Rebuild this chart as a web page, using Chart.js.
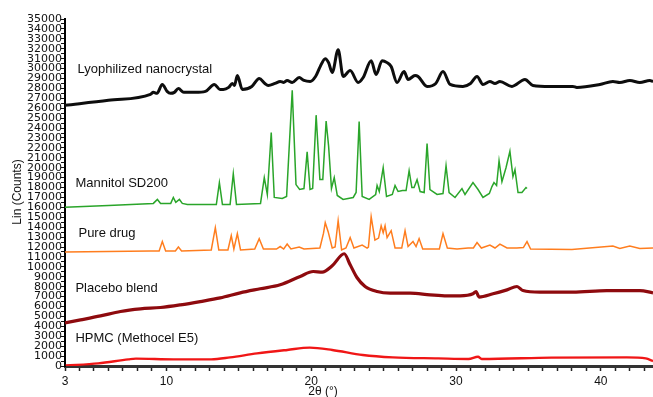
<!DOCTYPE html>
<html>
<head>
<meta charset="utf-8">
<script src="https://cdn.jsdelivr.net/npm/chart.js@4.4.1/dist/chart.umd.min.js"></script>
<style>
  html, body { margin: 0; padding: 0; background: #fff; }
  #wrap { width: 653px; height: 397px; position: relative; }
</style>
</head>
<body>
<div id="wrap"><canvas id="xrd"></canvas></div>
<script>
const lyoX = [3.0, 6.0, 8.9, 9.1, 9.35, 9.72, 10.05, 10.28, 10.55, 10.83, 11.2, 12.0, 12.7, 13.31, 13.7, 13.93, 14.3, 14.55, 14.7, 14.9, 15.24, 15.9, 16.41, 16.8, 17.03, 17.5, 17.86, 18.1, 18.34, 18.69, 19.17, 19.5, 19.93, 20.3, 20.62, 20.97, 21.2, 21.45, 21.86, 22.21, 22.69, 23.24, 23.59, 24.14, 24.48, 24.9, 25.24, 25.52, 25.93, 26.41, 26.69, 27.17, 27.38, 28.0, 28.6, 29.1, 29.59, 30.48, 31.0, 31.45, 31.86, 32.34, 32.69, 33.03, 33.86, 34.76, 35.31, 36.5, 38.07, 38.34, 39.93, 40.83, 41.31, 42.0, 42.69, 43.38, 43.6];
const lyoY = [26300, 26800, 27400, 27600, 27500, 28400, 27700, 27500, 27600, 28000, 27600, 27600, 27700, 28400, 27900, 27900, 28100, 28500, 28300, 29300, 27900, 28200, 29000, 28500, 28300, 28500, 28700, 28600, 28800, 28600, 29100, 28800, 28700, 29200, 30200, 31000, 30600, 29600, 31900, 29200, 29800, 28600, 29100, 30800, 29400, 30800, 30600, 30200, 28600, 29700, 28900, 29300, 29200, 28200, 28500, 29700, 28400, 28200, 28500, 29200, 28400, 28700, 28500, 28700, 28200, 28900, 28300, 28200, 28200, 28100, 28400, 28700, 28600, 28800, 28600, 28800, 28700];

const manX = [3.0, 6.0, 9.1, 9.38, 9.6, 10.3, 10.48, 10.65, 10.9, 11.1, 11.45, 13.45, 13.66, 13.87, 14.4, 14.62, 14.84, 16.5, 16.76, 16.97, 17.24, 17.45, 18.0, 18.3, 18.69, 18.95, 19.2, 19.5, 19.72, 19.92, 20.1, 20.34, 20.6, 20.8, 21.03, 21.2, 21.4, 21.59, 21.8, 22.2, 22.9, 23.1, 23.31, 23.52, 24.0, 24.45, 24.55, 24.7, 24.97, 25.2, 25.6, 25.79, 26.0, 26.3, 26.55, 26.76, 26.95, 27.1, 27.31, 27.52, 27.8, 28.0, 28.2, 28.69, 29.1, 29.31, 29.52, 29.93, 30.41, 30.62, 31.17, 31.52, 31.86, 32.3, 32.48, 32.62, 32.8, 32.97, 33.17, 33.45, 33.72, 33.93, 34.07, 34.28, 34.55, 34.83, 34.9];
const manY = [16000, 16200, 16400, 16800, 16400, 16400, 17000, 16500, 16800, 16400, 16300, 16300, 18500, 16300, 16300, 19400, 16300, 16400, 19000, 17300, 23550, 17000, 16900, 17100, 27800, 18300, 17800, 17900, 21600, 17800, 17900, 25300, 18800, 18800, 24700, 22200, 17900, 19000, 17200, 16800, 17000, 17500, 24650, 17100, 16800, 17300, 18200, 17600, 20000, 17100, 17300, 18200, 17600, 17700, 17700, 19700, 18000, 18000, 18800, 17600, 17500, 22450, 17800, 17300, 17400, 20200, 17500, 17000, 17900, 17300, 18500, 17800, 17000, 17400, 18100, 18500, 18200, 20700, 18600, 20000, 21650, 19100, 19800, 17500, 17500, 18000, 17900];

const drugX = [3.0, 8.9, 9.5, 9.72, 9.95, 10.62, 10.83, 11.05, 13.1, 13.38, 13.62, 14.25, 14.48, 14.66, 14.9, 15.12, 16.1, 16.41, 16.7, 17.6, 17.86, 18.1, 18.34, 18.6, 19.17, 19.5, 20.6, 20.85, 20.97, 21.17, 21.45, 21.65, 21.86, 22.1, 22.4, 22.69, 22.95, 23.52, 23.86, 23.95, 24.14, 24.4, 24.65, 24.83, 24.97, 25.1, 25.24, 25.52, 25.79, 26.25, 26.48, 26.69, 27.03, 27.24, 27.45, 27.7, 28.85, 29.1, 29.4, 30.07, 30.83, 31.2, 31.45, 31.75, 32.34, 32.69, 33.03, 33.52, 34.2, 34.65, 34.9, 35.15, 38.0, 40.83, 41.31, 42.0, 42.69, 43.6];
const drugY = [11500, 11600, 11600, 12550, 11600, 11600, 12000, 11600, 11700, 13950, 11700, 11700, 13150, 11800, 13350, 11700, 11800, 12850, 11800, 11800, 12050, 11800, 12300, 11800, 12000, 11800, 11900, 13400, 14450, 13550, 11900, 12000, 14650, 11700, 11900, 12950, 11900, 12200, 11900, 12000, 15050, 12700, 12900, 14150, 13450, 14150, 12950, 13650, 11900, 11900, 13650, 12050, 12550, 12050, 12850, 11800, 11800, 13350, 11900, 11800, 11900, 11900, 12450, 11900, 12200, 11900, 12300, 11900, 11900, 11950, 12550, 11800, 11750, 12100, 11850, 12100, 11850, 11900];

const placX = [3.0, 4.07, 5.45, 6.83, 8.21, 9.59, 10.97, 12.34, 13.72, 15.1, 16.48, 17.86, 19.24, 20.14, 20.76, 21.45, 22.28, 22.69, 23.17, 23.72, 24.55, 25.45, 26.83, 28.21, 29.38, 30.28, 31.17, 31.38, 31.59, 32.55, 33.52, 34.21, 34.62, 35.79, 38.07, 40.41, 42.69, 43.6];
const placY = [4350, 4650, 5050, 5500, 5760, 5900, 6170, 6500, 6870, 7380, 7790, 8190, 9030, 9530, 9470, 10110, 11320, 10210, 8900, 8020, 7510, 7350, 7350, 7180, 7080, 7080, 7280, 7510, 6950, 7280, 7680, 8020, 7610, 7450, 7450, 7610, 7610, 7380];

const hpmcX = [3.05, 5.3, 7.38, 7.9, 10.5, 13.1, 14.4, 16.26, 18.35, 19.9, 21.45, 23.56, 25.64, 28.76, 30.86, 31.52, 31.77, 36.6, 41.8, 43.1, 43.6];
const hpmcY = [50, 270, 670, 740, 670, 670, 870, 1270, 1620, 1850, 1620, 1110, 870, 770, 710, 940, 710, 840, 870, 770, 500];

const seriesNames = ["Lyophilized nanocrystal", "Mannitol SD200", "Pure drug", "Placebo blend", "HPMC (Methocel E5)"];
const xLabeled = [3, 10, 20, 30, 40];

// posición de los rótulos de cada curva (en unidades de datos)
const LABEL_POS = [
  { x: 3.86, y: 29950 },
  { x: 3.72, y: 18400 },
  { x: 3.93, y: 13350 },
  { x: 3.72, y: 7800 },
  { x: 3.72, y: 2750 },
];

const COLORS = ["#0d0d0d", "#2aa52a", "#ff7d1e", "#8e0a0e", "#f01616"];
const WIDTHS = [3, 1.5, 1.5, 3.2, 2.4];
const SMOOTH = [true, false, false, true, true];

const toPts = (xs, ys) => xs.map((x, i) => ({ x, y: ys[i] }));
const series = [
  toPts(lyoX, lyoY),
  toPts(manX, manY),
  toPts(drugX, drugY),
  toPts(placX, placY),
  toPts(hpmcX, hpmcY),
];

const textos = {
  id: "textos",
  afterDraw(chart) {
    const { ctx, scales } = chart;
    ctx.save();
    ctx.fillStyle = "#111";
    ctx.font = "13px 'Liberation Sans', Arial, sans-serif";
    ctx.textAlign = "left";
    ctx.textBaseline = "middle";
    seriesNames.forEach((name, i) => {
      const p = LABEL_POS[i];
      ctx.fillText(name, scales.x.getPixelForValue(p.x), scales.y.getPixelForValue(p.y));
    });
    // título eje x
    ctx.font = "12px 'Liberation Sans', Arial, sans-serif";
    ctx.textAlign = "center";
    ctx.fillText("2θ (°)", 323, 392);
    // título eje y
    ctx.translate(18, 192);
    ctx.rotate(-Math.PI / 2);
    ctx.fillText("Lin (Counts)", 0, 0);
    ctx.restore();
  },
};

new Chart(document.getElementById("xrd").getContext("2d"), {
  type: "line",
  data: {
    datasets: series.map((pts, i) => ({
      label: seriesNames[i],
      data: pts,
      borderColor: COLORS[i],
      borderWidth: WIDTHS[i],
      pointRadius: 0,
      cubicInterpolationMode: SMOOTH[i] ? "monotone" : "default",
      tension: 0,
      fill: false,
    })),
  },
  options: {
    responsive: true,
    maintainAspectRatio: false,
    animation: false,
    layout: { padding: { top: 19, right: 0, left: 0, bottom: 0 } },
    plugins: { legend: { display: false }, tooltip: { enabled: false } },
    scales: {
      x: {
        type: "linear",
        min: 3,
        max: 43.6,
        afterBuildTicks: (s) => {
          const t = [];
          for (let v = 3; v <= 43; v++) t.push({ value: v });
          s.ticks = t;
        },
        afterFit: (s) => { s.height = 31; },
        ticks: {
          autoSkip: false,
          maxRotation: 0,
          padding: 3,
          color: "#111",
          font: { family: "'Liberation Sans', Arial, sans-serif", size: 12 },
          callback: (v) => (xLabeled.includes(v) ? String(v) : ""),
        },
        grid: { drawOnChartArea: false, drawTicks: true, tickLength: 5, color: "#222", tickWidth: 1.5 },
        border: { display: true, color: "#333", width: 3 },
      },
      y: {
        min: 0,
        max: 35000,
        afterBuildTicks: (s) => {
          const t = [];
          for (let v = 0; v <= 35000; v += 500) t.push({ value: v });
          s.ticks = t;
        },
        afterFit: (s) => { s.width = 65; },
        ticks: {
          autoSkip: false,
          padding: -1,
          color: "#111",
          font: { family: "'DejaVu Sans', sans-serif", size: 11 },
          callback: (v) => (v % 1000 === 0 ? String(v) : ""),
        },
        grid: { drawOnChartArea: false, drawTicks: true, tickLength: 4, color: "#111", tickWidth: 1 },
        border: { display: true, color: "#000", width: 2 },
      },
    },
  },
  plugins: [textos],
});
</script>
</body>
</html>
